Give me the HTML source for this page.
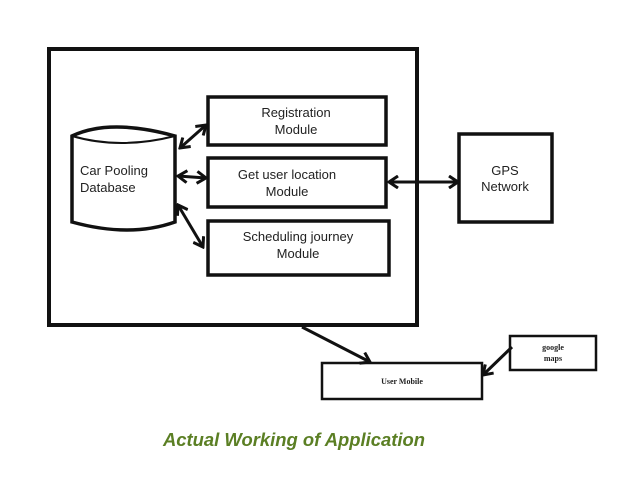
<!DOCTYPE html>
<html><head><style>
body{margin:0;background:#fff;width:638px;height:479px;overflow:hidden}
svg text{font-family:"Liberation Sans",sans-serif;fill:#222}
</style></head><body>
<svg width="638" height="479" xmlns="http://www.w3.org/2000/svg">
<defs>
<marker id="a" markerWidth="12" markerHeight="14" refX="10" refY="7" orient="auto-start-reverse" markerUnits="userSpaceOnUse"><path d="M1,1 L10,7 L1,13" fill="none" stroke="#111" stroke-width="3"/></marker>
</defs>
<g fill="none" stroke="#111">
<rect x="49" y="49" width="368" height="276" stroke-width="4"/>
<rect x="208" y="97" width="178" height="48" stroke-width="3.5"/>
<rect x="208" y="158" width="178" height="49" stroke-width="3.5"/>
<rect x="208" y="221" width="181" height="54" stroke-width="3.5"/>
<path d="M72,136 Q110,118 175,136 L175,222 Q130,238 72,222 Z" stroke-width="3.5"/>
<path d="M72,136 Q120,150 175,136" stroke-width="2"/>
<rect x="459" y="134" width="93" height="88" stroke-width="3.5"/>
<rect x="322" y="363" width="160" height="36" stroke-width="2.5"/>
<rect x="510" y="336" width="86" height="34" stroke-width="2.5"/>
<g stroke-width="3">
<line x1="180" y1="148" x2="206" y2="125" marker-start="url(#a)" marker-end="url(#a)"/>
<line x1="178" y1="176" x2="206" y2="178" marker-start="url(#a)" marker-end="url(#a)"/>
<line x1="178" y1="205" x2="203" y2="247" marker-start="url(#a)" marker-end="url(#a)"/>
<line x1="389" y1="182" x2="458" y2="182" marker-start="url(#a)" marker-end="url(#a)"/>
<line x1="302" y1="327" x2="370" y2="362" marker-end="url(#a)"/>
<line x1="512" y1="347" x2="483" y2="375" marker-end="url(#a)"/>
</g>
</g>
<text x="296" y="117" font-size="13" text-anchor="middle">Registration</text>
<text x="296" y="134" font-size="13" text-anchor="middle">Module</text>
<text x="287" y="179" font-size="13" text-anchor="middle">Get user location</text>
<text x="287" y="196" font-size="13" text-anchor="middle">Module</text>
<text x="298" y="241" font-size="13" text-anchor="middle">Scheduling journey</text>
<text x="298" y="258" font-size="13" text-anchor="middle">Module</text>
<text x="80" y="175" font-size="13">Car Pooling</text>
<text x="80" y="192" font-size="13">Database</text>
<text x="505" y="175" font-size="13" text-anchor="middle">GPS</text>
<text x="505" y="191" font-size="13" text-anchor="middle">Network</text>
<text x="402" y="384" font-size="8" text-anchor="middle" font-weight="bold" style="font-family:'Liberation Serif',serif">User Mobile</text>
<text x="553" y="350" font-size="8" text-anchor="middle" font-weight="bold" style="font-family:'Liberation Serif',serif">google</text>
<text x="553" y="361" font-size="8" text-anchor="middle" font-weight="bold" style="font-family:'Liberation Serif',serif">maps</text>
<text x="163" y="446" font-size="18" font-style="italic" font-weight="bold" textLength="262" lengthAdjust="spacingAndGlyphs" style="fill:#5b7f24">Actual Working of Application</text>
</svg>
</body></html>
